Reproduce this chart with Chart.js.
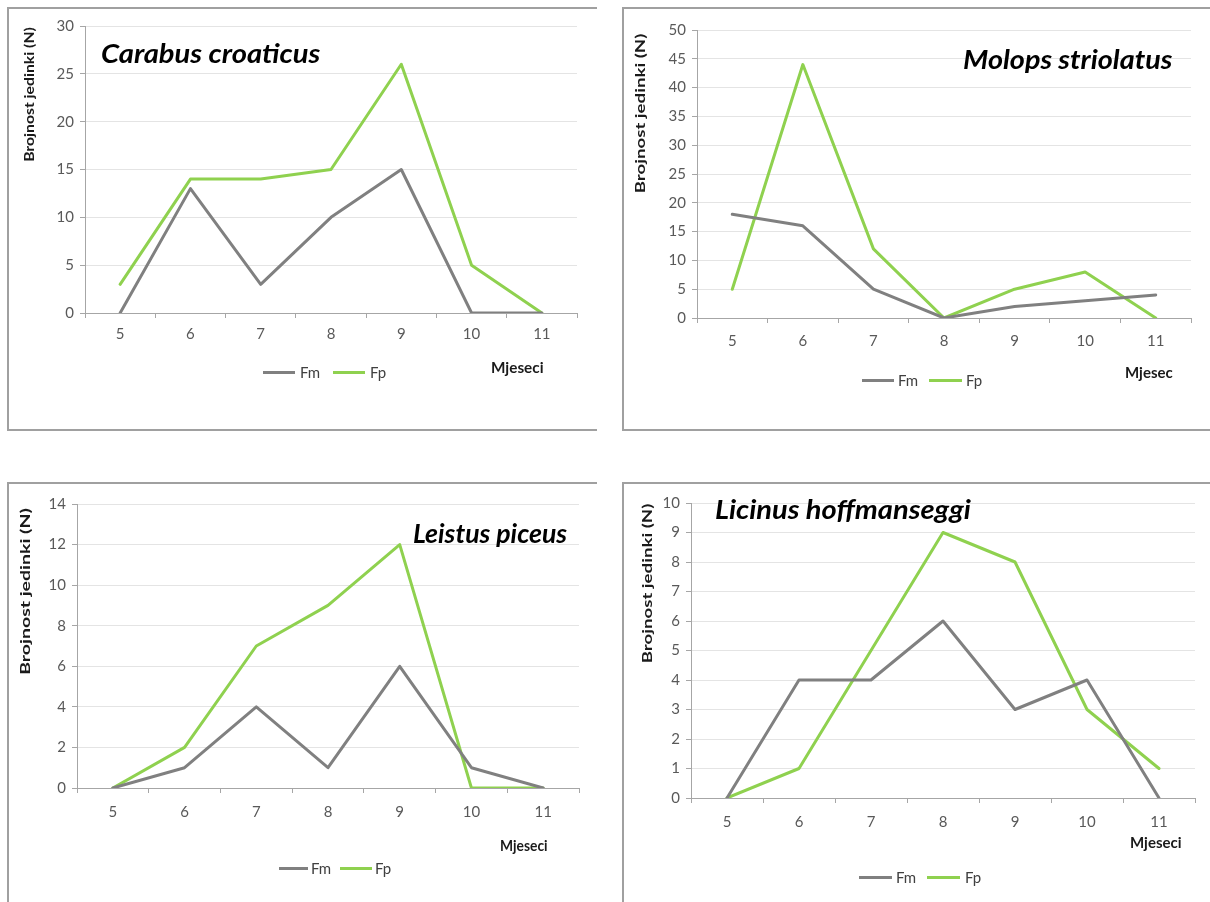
<!DOCTYPE html>
<html><head><meta charset="utf-8">
<script src="https://cdn.jsdelivr.net/npm/chart.js@4"></script>
<style>
html,body{margin:0;padding:0;background:#fff}
body{width:1210px;height:902px;position:relative;overflow:hidden;font-family:Lato,"Open Sans",sans-serif}
canvas.c{position:absolute;left:0;top:0}
.box{position:absolute;border:0 solid #a0a0a0;box-sizing:border-box}
.t{position:absolute;white-space:nowrap;line-height:1}
.sw{position:absolute;height:3px}
</style></head><body>
<canvas class="c" id="c1" width="1210" height="902"></canvas>
<canvas class="c" id="c2" width="1210" height="902"></canvas>
<canvas class="c" id="c3" width="1210" height="902"></canvas>
<canvas class="c" id="c4" width="1210" height="902"></canvas>
<script>
// ---- data ----
const months = ['5','6','7','8','9','10','11'];
const seriesNames = ['Fm','Fp'];
const titles = ['Carabus croaticus','Molops striolatus','Leistus piceus','Licinus hoffmanseggi'];
const xTitles = ['Mjeseci','Mjesec','Mjeseci','Mjeseci'];
const yTitle = 'Brojnost jedinki (N)';
const carabusFm = [0,13,3,10,15,0,0];
const carabusFp = [3,14,14,15,26,5,0];
const molopsFm = [18,16,5,0,2,3,4];
const molopsFp = [5,44,12,0,5,8,0];
const leistusFm = [0,1,4,1,6,1,0];
const leistusFp = [0,2,7,9,12,0,0];
const licinusFm = [0,4,4,6,3,4,0];
const licinusFp = [0,1,5,9,8,3,1];
const yMax = [30,50,14,10];
const yStep = [5,5,2,1];

const GRAY = '#808080', GREEN = '#8fd14f', AXIS = '#a6a6a6', GRID = '#e4e4e4', TICK = '#595959';

// ---- layout ----
const panels = [
  {canvas:'c1', Fm:carabusFm, Fp:carabusFp, area:{l:85,r:577,t:26,b:313}, xpad:7,
   box:{l:7,t:7,w:590,h:424,bw:'2px 0 2px 2px'},
   title:{x1:101,x2:320,y:52}, ytitle:{x:29,y1:27,y2:162}, xt:{x1:491,x2:544,y:367},
   leg:{y:372,g1:263,g2:295,fm:300,n1:333,n2:365,fp:370}},
  {canvas:'c2', Fm:molopsFm, Fp:molopsFp, area:{l:697,r:1191,t:30,b:318}, xpad:9,
   box:{l:622,t:7,w:600,h:424,bw:'2px 0 2px 2px'},
   title:{x1:963,x2:1173,y:58}, ytitle:{x:640,y1:33,y2:193}, xt:{x1:1125,x2:1173,y:372},
   leg:{y:380,g1:862,g2:894,fm:898,n1:929,n2:962,fp:966}},
  {canvas:'c3', Fm:leistusFm, Fp:leistusFp, area:{l:77,r:579,t:504,b:788}, xpad:10,
   box:{l:7,t:482,w:590,h:430,bw:'2px 0 0 2px'},
   title:{x1:413,x2:567,y:532}, ytitle:{x:25,y1:508,y2:675}, xt:{x1:500,x2:548,y:845},
   leg:{y:868,g1:279,g2:308,fm:311,n1:340,n2:372,fp:375}},
  {canvas:'c4', Fm:licinusFm, Fp:licinusFp, area:{l:691,r:1195,t:503,b:798}, xpad:10,
   box:{l:622,t:482,w:600,h:430,bw:'2px 0 0 2px'},
   title:{x1:715,x2:971,y:508}, ytitle:{x:647,y1:503,y2:663}, xt:{x1:1130,x2:1182,y:842},
   leg:{y:877,g1:859,g2:892,fm:896,n1:927,n2:960,fp:965}}
];

const W = 1210, H = 902, YW = 40, XH = 30;

function addText(txt, font, color, x1, x2, yc){
  const s = document.createElement('span');
  s.className = 't'; s.textContent = txt; s.style.font = font; s.style.color = color;
  document.body.appendChild(s);
  const w = s.offsetWidth, h = s.offsetHeight;
  s.style.left = x1 + 'px'; s.style.top = (yc - h/2) + 'px';
  s.style.transformOrigin = 'left center';
  s.style.transform = 'scaleX(' + ((x2 - x1)/w) + ')';
}
function addVText(txt, font, color, xc, y1, y2){
  const s = document.createElement('span');
  s.className = 't'; s.textContent = txt; s.style.font = font; s.style.color = color;
  document.body.appendChild(s);
  const w = s.offsetWidth, h = s.offsetHeight;
  s.style.left = (xc - w/2) + 'px'; s.style.top = ((y1+y2)/2 - h/2) + 'px';
  s.style.transformOrigin = 'center center';
  s.style.transform = 'rotate(-90deg) scaleX(' + ((y2 - y1)/w) + ')';
}
function addSwatch(x1, x2, y, color){
  const d = document.createElement('div');
  d.className = 'sw'; d.style.left = x1 + 'px'; d.style.width = (x2-x1) + 'px';
  d.style.top = (y - 1.5) + 'px'; d.style.background = color;
  document.body.appendChild(d);
}
function addPlain(txt, font, color, x, yc){
  const s = document.createElement('span');
  s.className = 't'; s.textContent = txt; s.style.font = font; s.style.color = color;
  document.body.appendChild(s);
  s.style.left = x + 'px'; s.style.top = (yc - s.offsetHeight/2) + 'px';
}

panels.forEach((p, i) => {
  const b = document.createElement('div');
  b.className = 'box';
  b.style.left = p.box.l + 'px'; b.style.top = p.box.t + 'px';
  b.style.width = p.box.w + 'px'; b.style.height = p.box.h + 'px';
  b.style.borderWidth = p.box.bw;
  document.body.insertBefore(b, document.body.firstChild);

  new Chart(document.getElementById(p.canvas), {
    type: 'line',
    data: {
      labels: months,
      datasets: [
        {label: seriesNames[0], data: p.Fm, borderColor: GRAY, backgroundColor: GRAY, borderWidth: 3, pointRadius: 0, tension: 0, borderJoinStyle: 'round', borderCapStyle: 'round'},
        {label: seriesNames[1], data: p.Fp, borderColor: GREEN, backgroundColor: GREEN, borderWidth: 3, pointRadius: 0, tension: 0, borderJoinStyle: 'round', borderCapStyle: 'round'}
      ]
    },
    options: {
      responsive: false, animation: false, devicePixelRatio: 1,
      layout: {padding: {left: p.area.l - YW, right: W - p.area.r, top: p.area.t, bottom: H - p.area.b - XH}},
      plugins: {legend: {display: false}, tooltip: {enabled: false}, title: {display: false}},
      scales: {
        x: {
          type: 'category', offset: true,
          afterFit: s => { s.height = XH; },
          grid: {display: true, drawOnChartArea: false, drawTicks: true, tickLength: 5, color: AXIS, offset: true},
          border: {display: true, color: AXIS, width: 1},
          ticks: {font: {family: 'Lato', size: 15}, color: TICK, padding: p.xpad, maxRotation: 0, autoSkip: false}
        },
        y: {
          min: 0, max: yMax[i],
          afterFit: s => { s.width = YW; },
          grid: {color: GRID, lineWidth: 1, drawTicks: true, tickLength: 5, tickColor: AXIS},
          border: {display: true, color: AXIS, width: 1},
          ticks: {stepSize: yStep[i], font: {family: 'Lato', size: 15}, color: TICK, padding: 6}
        }
      }
    }
  });

  addText(titles[i], 'italic 700 27px Lato', '#000', p.title.x1, p.title.x2, p.title.y);
  addVText(yTitle, '700 14px Lato', '#1a1a1a', p.ytitle.x, p.ytitle.y1, p.ytitle.y2);
  addText(xTitles[i], '700 15px Lato', '#1a1a1a', p.xt.x1, p.xt.x2, p.xt.y);
  addSwatch(p.leg.g1, p.leg.g2, p.leg.y, GRAY);
  addPlain(seriesNames[0], '15px Lato', '#404040', p.leg.fm, p.leg.y);
  addSwatch(p.leg.n1, p.leg.n2, p.leg.y, GREEN);
  addPlain(seriesNames[1], '15px Lato', '#404040', p.leg.fp, p.leg.y);
});
</script>
</body></html>
